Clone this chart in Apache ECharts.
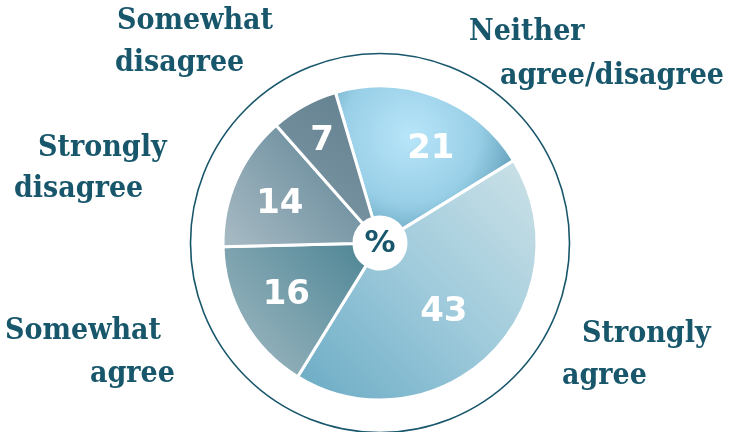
<!DOCTYPE html>
<html>
<head>
<meta charset="utf-8">
<script src="https://cdn.jsdelivr.net/npm/echarts@6/dist/echarts.min.js"></script>
<style>html,body{margin:0;padding:0;background:#fff;}#c{width:734px;height:432px;}</style>
</head>
<body>
<div id="c"></div>
<script>
// Data
var categories = ['Neither\nagree/disagree', 'Strongly\nagree', 'Somewhat\nagree', 'Strongly\ndisagree', 'Somewhat\ndisagree'];
var values = [21, 43, 16, 14, 7];
var centerLabel = '%';

// Styles (kept separate from data)
var textColor = '#17566b';
var sliceGradients = [
  {type: 'radial', x: 0.42, y: 0.35, r: 0.85, colorStops: [{offset: 0, color: '#b8e5f9'}, {offset: 0.55, color: '#98cfe7'}, {offset: 1, color: '#4f8eaa'}]},
  {type: 'linear', x: 1, y: 0, x2: 0, y2: 1, colorStops: [{offset: 0, color: '#cde2e8'}, {offset: 0.5, color: '#9ecadb'}, {offset: 1, color: '#6aabc4'}]},
  {type: 'linear', x: 1, y: 0, x2: 0, y2: 1, colorStops: [{offset: 0, color: '#4e8595'}, {offset: 1, color: '#a4bcc4'}]},
  {type: 'linear', x: 1, y: 0, x2: 0, y2: 1, colorStops: [{offset: 0, color: '#5b8193'}, {offset: 1, color: '#a9bcc5'}]},
  {type: 'linear', x: 1, y: 0, x2: 0, y2: 1, colorStops: [{offset: 0, color: '#62808f'}, {offset: 1, color: '#7e97a4'}]}
];
// outer label line anchors: [x, y, align] per line
var labelLines = [
  [[469, 32, 'left'], [500, 76, 'left']],
  [[582, 334, 'left'], [562, 376, 'left']],
  [[5, 331, 'left'], [90, 374, 'left']],
  [[38, 148, 'left'], [14, 189, 'left']],
  [[117, 21, 'left'], [115, 63, 'left']]
];
// small nudges of the value labels inside the slices
var valueNudge = [[11, 10], [-15, -10], [3, -3], [2, 6], [-4, -4]];

var chart = echarts.init(document.getElementById('c'), null, {renderer: 'canvas'});
var cx = 380, cy = 243;
var labelFont = {fontFamily: '"DejaVu Serif Condensed", "DejaVu Serif"', fontWeight: 'bold', fontSize: 30, fill: textColor};

var graphics = [
  {type: 'circle', shape: {cx: cx, cy: cy, r: 189.5}, style: {fill: 'none', stroke: textColor, lineWidth: 1.6}, z: 0},
  {type: 'circle', shape: {cx: cx, cy: cy, r: 26}, style: {fill: '#ffffff'}, z: 100},
  {type: 'text', x: cx, y: cy + 1, z: 101, style: {text: centerLabel, fontFamily: 'DejaVu Sans', fontWeight: 'bold', fontSize: 31, fill: textColor, align: 'center', verticalAlign: 'middle'}}
];
categories.forEach(function (name, i) {
  var lines = name.split('\n');
  lines.forEach(function (ln, j) {
    var p = labelLines[i][j];
    graphics.push({type: 'text', x: p[0], y: p[1], z: 50, style: Object.assign({text: ln, align: p[2], verticalAlign: 'middle'}, labelFont)});
  });
});

var pieData = values.map(function (v, i) {
  return {value: v, name: categories[i], itemStyle: {color: sliceGradients[i]}};
});

chart.setOption({
  animation: false,
  backgroundColor: '#ffffff',
  series: [
    {
      type: 'pie',
      center: [cx, cy],
      radius: [26, 157],
      startAngle: 106.5,
      clockwise: true,
      silent: true,
      itemStyle: {borderColor: '#ffffff', borderWidth: 3},
      label: {show: false},
      labelLine: {show: false},
      data: pieData,
      z: 2
    },
    {
      type: 'pie',
      center: [cx, cy],
      radius: [60, 157],
      startAngle: 106.5,
      clockwise: true,
      silent: true,
      itemStyle: {color: 'rgba(0,0,0,0)', borderWidth: 0},
      label: {show: true, position: 'inside', formatter: '{c}', color: '#ffffff', fontFamily: 'DejaVu Sans', fontWeight: 'bold', fontSize: 34},
      labelLine: {show: false},
      labelLayout: function (params) {
        var n = valueNudge[params.dataIndex];
        return {dx: n[0], dy: n[1]};
      },
      data: values.map(function (v, i) { return {value: v, name: categories[i]}; }),
      z: 3
    }
  ],
  graphic: graphics
});
</script>
</body>
</html>
